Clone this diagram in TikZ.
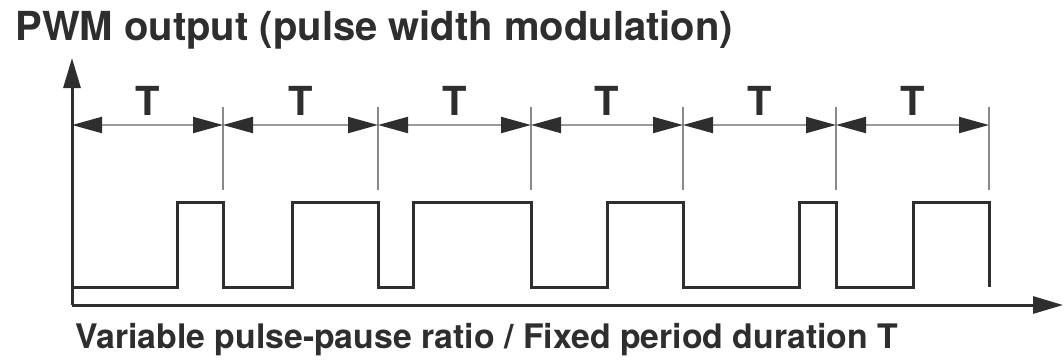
\documentclass[tikz,border=0pt]{standalone}
\usepackage{fontspec}
\setmainfont{TeX Gyre Heros}
\usepackage{tikz}
\usetikzlibrary{arrows.meta,positioning}
\definecolor{inkgray}{HTML}{2E2E2E}
\definecolor{dimgray}{HTML}{9A9A9A}
\definecolor{tickgray}{HTML}{8A8A8A}
\tikzset{
  axisline/.style={draw=inkgray, line width=1.5pt,
    -{Triangle[length=15pt,width=8.5pt]}},
  signalline/.style={draw=inkgray, line width=1.5pt, line join=miter},
  tickline/.style={draw=tickgray, line width=0.7pt},
  dimarrow/.style={draw=dimgray, line width=1pt,
    {Triangle[length=15pt,width=8pt,color=inkgray]}-{Triangle[length=15pt,width=8pt,color=inkgray]}},
}

\begin{document}
\begin{tikzpicture}[
    x=0.5pt, y=-0.5pt,
    titletext/.style={anchor=base west, inner sep=0pt, text=inkgray,
      font=\bfseries\fontsize{20}{24}\selectfont},
    captiontext/.style={anchor=base west, inner sep=0pt, text=inkgray,
      font=\bfseries\fontsize{16.9}{20}\selectfont},
    periodlabel/.style={anchor=base, inner sep=0pt, yshift=5pt, text=inkgray,
      font=\bfseries\fontsize{20}{24}\selectfont}
  ]
  \useasboundingbox (0,0) rectangle (1064,360);

  % ============ Texts ============
  \node[titletext]   (title)   at (15,40)  {PWM output (pulse width modulation)};
  \node[captiontext] (caption) at (75,348) {Variable pulse-pause ratio / Fixed period duration T};

  % ============ Axes ============
  \coordinate (origin) at (72,305);
  \coordinate (ytip)   at (72,58);
  \coordinate (xtip)   at (1063,305);
  \draw[axisline] (origin) -- (ytip);
  \draw[axisline] (origin) -- (xtip);

  % ============ Period marks (y = 107 .. 190) ============
  \draw[tickline] (223,107) -- (223,190);
  \draw[tickline] (378,107) -- (378,190);
  \draw[tickline] (531,107) -- (531,190);
  \draw[tickline] (683,107) -- (683,190);
  \draw[tickline] (836,107) -- (836,190);
  \draw[tickline] (989,107) -- (989,190);

  % ============ Period dimensions (y = 125) ============
  \coordinate (p0) at (72,125);
  \coordinate (p1) at (223,125);
  \coordinate (p2) at (378,125);
  \coordinate (p3) at (531,125);
  \coordinate (p4) at (683,125);
  \coordinate (p5) at (836,125);
  \coordinate (p6) at (989,125);

  \draw[dimarrow] (p0) -- node[periodlabel] (t1) {T} (p1);
  \draw[dimarrow] (p1) -- node[periodlabel] (t2) {T} (p2);
  \draw[dimarrow] (p2) -- node[periodlabel] (t3) {T} (p3);
  \draw[dimarrow] (p3) -- node[periodlabel] (t4) {T} (p4);
  \draw[dimarrow] (p4) -- node[periodlabel] (t5) {T} (p5);
  \draw[dimarrow] (p5) -- node[periodlabel] (t6) {T} (p6);

  % ============ PWM signal (low y = 287, high y = 202) ============
  \draw[signalline] (72,287)
    -- (177,287) -- (177,202) -- (223,202) -- (223,287)
    -- (292,287) -- (292,202) -- (378,202) -- (378,287)
    -- (413,287) -- (413,202) -- (531,202) -- (531,287)
    -- (607,287) -- (607,202) -- (683,202) -- (683,287)
    -- (799,287) -- (799,202) -- (836,202) -- (836,287)
    -- (913,287) -- (913,202) -- (989,202) -- (989,287);

\end{tikzpicture}
\end{document}
